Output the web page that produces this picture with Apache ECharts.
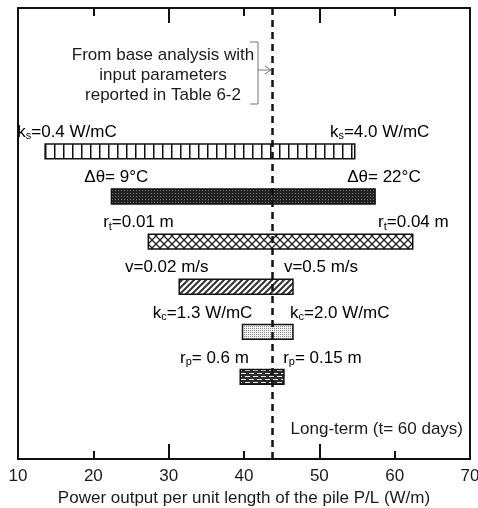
<!DOCTYPE html>
<html>

<head>
    <meta charset="utf-8">
</head>

<body style="height: 100%; margin: 0">
    <div id="container" style="width: 478px; height: 508px"></div>
    <script type="text/javascript" src="https://cdn.jsdelivr.net/npm/echarts@6/dist/echarts.min.js"></script>
    <script>
        // sensitivity bars, top to bottom
        var params = ['ks', 'dtheta', 'rt', 'v', 'kc', 'rp']
        var lows = [13.6, 22.4, 27.3, 31.4, 39.8, 39.5]
        var highs = [54.7, 57.4, 62.4, 46.5, 46.5, 45.3]
        var lowLabels = ['{m|k}{s|s}{m|=0.4 W/mC}', '{m|\u0394\u03b8= 9\u00b0C}', '{m|r}{s|t}{m|=0.01 m}',
            '{m|v=0.02 m/s}', '{m|k}{s|c}{m|=1.3 W/mC}', '{m|r}{s|p}{m|= 0.6 m}']
        var highLabels = ['{m|k}{s|s}{m|=4.0 W/mC}', '{m|\u0394\u03b8= 22\u00b0C}', '{m|r}{s|t}{m|=0.04 m}',
            '{m|v=0.5 m/s}', '{m|k}{s|c}{m|=2.0 W/mC}', '{m|r}{s|p}{m|= 0.15 m}']
        var baseValue = 43.8

        // where the left / right label text starts (x units), layout only
        var lowLabelAt = [9.9, 18.8, 21.3, 24.2, 27.9, 31.5]
        var highLabelAt = [51.4, 53.7, 57.8, 45.3, 46.1, 45.2]

        var FONT = "'Liberation Sans', Arial, sans-serif"
        var TXT = '#1a1a1a'
        var PLOT_H = 451

        function pat(w, h, draw) {
            var c = document.createElement('canvas')
            c.width = w
            c.height = h
            var ctx = c.getContext('2d')
            draw(ctx, w, h)
            return { image: c, repeat: 'repeat' }
        }

        var fills = [
            // vertical lines
            pat(9, 4, function (ctx, w, h) {
                ctx.fillStyle = '#fff'; ctx.fillRect(0, 0, w, h)
                ctx.fillStyle = '#111'; ctx.fillRect(0, 0, 1.5, h)
            }),
            // dense dark
            pat(3, 3, function (ctx, w, h) {
                ctx.fillStyle = '#222'; ctx.fillRect(0, 0, w, h)
                ctx.fillStyle = '#7a7a7a'; ctx.fillRect(1, 1, 1, 1)
            }),
            // cross hatch
            pat(8, 8, function (ctx, w, h) {
                ctx.fillStyle = '#fff'; ctx.fillRect(0, 0, w, h)
                ctx.strokeStyle = '#222'; ctx.lineWidth = 1.3
                ctx.beginPath()
                ctx.moveTo(0, 0); ctx.lineTo(w, h)
                ctx.moveTo(w, 0); ctx.lineTo(0, h)
                ctx.stroke()
            }),
            // diagonal hatch
            pat(6, 6, function (ctx, w, h) {
                ctx.fillStyle = '#fff'; ctx.fillRect(0, 0, w, h)
                ctx.strokeStyle = '#333'; ctx.lineWidth = 2
                ctx.beginPath()
                ctx.moveTo(-1, h + 1); ctx.lineTo(w + 1, -1)
                ctx.moveTo(-2, 2); ctx.lineTo(2, -2)
                ctx.moveTo(w - 2, h + 2); ctx.lineTo(w + 2, h - 2)
                ctx.stroke()
            }),
            // fine stipple
            pat(2, 2, function (ctx, w, h) {
                ctx.fillStyle = '#f2f2f2'; ctx.fillRect(0, 0, w, h)
                ctx.fillStyle = '#8c8c8c'; ctx.fillRect(0, 0, 1, 1)
            }),
            // brick
            pat(8, 6, function (ctx, w, h) {
                ctx.fillStyle = '#2b2b2b'; ctx.fillRect(0, 0, w, h)
                ctx.fillStyle = '#e8e8e8'
                ctx.fillRect(1, 1, 5, 1)
                ctx.fillRect(5, 4, 3, 1)
                ctx.fillRect(0, 4, 2, 1)
            })
        ]

        var rich = {
            m: { fontSize: 17, fontFamily: FONT, color: TXT },
            s: { fontSize: 11, fontFamily: FONT, color: TXT, padding: [8, 0, 0, 0] }
        }

        var data = params.map(function (p, i) {
            return [lows[i], highs[i], i]
        })

        var dom = document.getElementById('container')
        var myChart = echarts.init(dom)

        // long ticks every 20, short minor tick in between
        function tickAxis(pos) {
            return {
                type: 'value', position: pos, min: 10, max: 70, interval: 20,
                axisLine: { show: false, onZero: false },
                splitLine: { show: false },
                axisLabel: { show: false },
                axisTick: { show: true, inside: true, length: 15, lineStyle: { color: '#111', width: 2 } },
                minorTick: { show: true, splitNumber: 2, length: 8, lineStyle: { color: '#111', width: 2 } }
            }
        }

        // short ticks along the bottom edge: a top axis pushed down onto the bottom edge
        var bottomShort = {
            type: 'value', position: 'top', offset: -PLOT_H, min: 10, max: 70, interval: 10,
            axisLine: { show: false, onZero: false },
            splitLine: { show: false },
            axisLabel: { show: false },
            axisTick: { show: true, inside: false, length: 8, lineStyle: { color: '#111', width: 2 } }
        }

        var labelAxis = {
            type: 'value', position: 'bottom', min: 10, max: 70, interval: 10,
            axisLine: { show: false, onZero: false },
            splitLine: { show: false },
            axisTick: { show: false },
            axisLabel: {
                show: true, margin: 9, fontSize: 17, fontFamily: FONT, color: TXT,
                showMinLabel: true, showMaxLabel: true
            },
            name: 'Power output per unit length of the pile P/L (W/m)',
            nameLocation: 'middle',
            nameGap: 21,
            nameTextStyle: { fontSize: 17, fontFamily: FONT, color: TXT }
        }

        var option = {
            animation: false,
            backgroundColor: '#fff',
            grid: {
                left: 18, right: 8, top: 8, bottom: 49,
                outerBoundsMode: 'none',
                containLabel: false,
                show: true, borderColor: '#111', borderWidth: 2
            },
            xAxis: [labelAxis, tickAxis('top'), bottomShort, tickAxis('bottom')],
            yAxis: {
                type: 'value', inverse: true, min: -3.18, max: 6.82, show: false,
                axisLine: { onZero: false }
            },
            series: [{
                type: 'custom',
                xAxisIndex: 0,
                data: data,
                renderItem: function (p, api) {
                    var i = api.value(2)
                    var a = api.coord([api.value(0), i])
                    var b = api.coord([api.value(1), i])
                    var h = api.size([0, 1])[1] * 0.33
                    var ly = a[1] - 19
                    return {
                        type: 'group',
                        children: [{
                            type: 'rect',
                            shape: { x: a[0], y: a[1] - h / 2, width: b[0] - a[0], height: h },
                            style: { fill: fills[i], stroke: '#111', lineWidth: 1.5 }
                        }, {
                            type: 'text',
                            x: api.coord([lowLabelAt[i], i])[0], y: ly,
                            style: { text: lowLabels[i], rich: rich, align: 'left', verticalAlign: 'middle' }
                        }, {
                            type: 'text',
                            x: api.coord([highLabelAt[i], i])[0], y: ly,
                            style: { text: highLabels[i], rich: rich, align: 'left', verticalAlign: 'middle' }
                        }]
                    }
                },
                markLine: {
                    silent: true,
                    symbol: 'none',
                    label: { show: false },
                    lineStyle: { color: '#111', width: 2.5, type: [7, 5] },
                    data: [{ xAxis: baseValue }]
                },
                z: 3
            }],
            graphic: [{
                type: 'text', x: 163, y: 75,
                style: {
                    text: 'From base analysis with\ninput parameters\nreported in Table 6-2',
                    font: '17px ' + FONT, fill: TXT, align: 'center', verticalAlign: 'middle', lineHeight: 20
                }
            }, {
                type: 'polyline',
                shape: { points: [[250, 42], [258, 42], [258, 104], [250, 104]] },
                style: { stroke: '#777', lineWidth: 1, fill: null }
            }, {
                type: 'polyline',
                shape: { points: [[258, 70], [271, 70]] },
                style: { stroke: '#777', lineWidth: 1, fill: null }
            }, {
                type: 'polyline',
                shape: { points: [[265, 66], [271, 70], [265, 74]] },
                style: { stroke: '#777', lineWidth: 1, fill: null }
            }, {
                type: 'text', x: 463, y: 429,
                style: {
                    text: 'Long-term (t= 60 days)',
                    font: '17px ' + FONT, fill: TXT, align: 'right', verticalAlign: 'middle'
                }
            }]
        }

        myChart.setOption(option)
    </script>

</body>

</html>
